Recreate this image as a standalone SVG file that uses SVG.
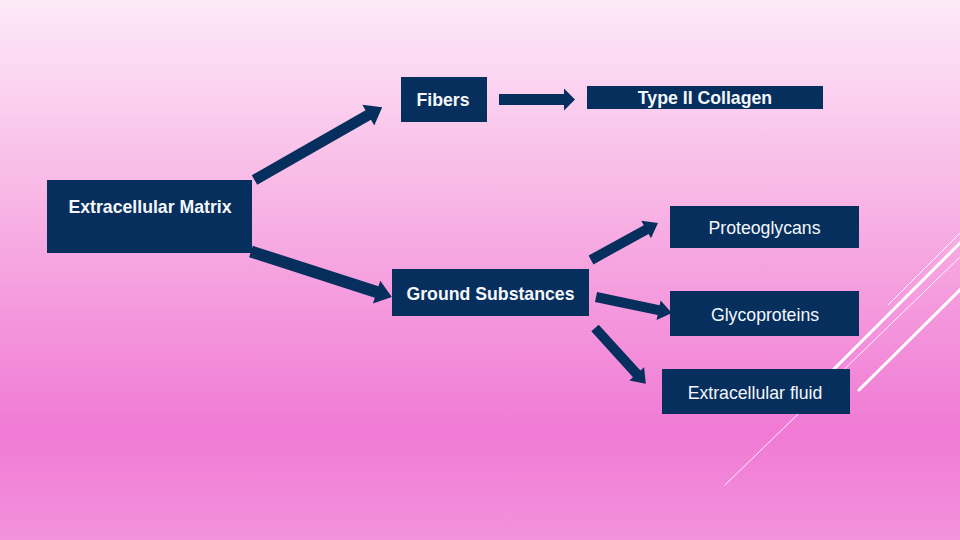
<svg xmlns="http://www.w3.org/2000/svg" width="960" height="540" viewBox="0 0 960 540">
  <defs>
    <linearGradient id="bg" x1="0" y1="0" x2="0" y2="1">
      <stop offset="0" stop-color="#fdeaf8"/>
      <stop offset="0.35" stop-color="#f8b8e6"/>
      <stop offset="0.6" stop-color="#f495dc"/>
      <stop offset="0.8" stop-color="#f07ad5"/>
      <stop offset="1" stop-color="#f392dc"/>
    </linearGradient>
  </defs>
  <style>
    .box { fill: #062f5e; }
    .arrow { fill: #062f5e; }
    .lbl { font-family: "Liberation Sans", Arial, sans-serif; font-size: 17.7px; fill: #f5f7fb; text-anchor: middle; }
    .b { font-weight: bold; }
    .deco { stroke: #ffffff; fill: none; stroke-linecap: round; }
  </style>
  <rect x="0" y="0" width="960" height="540" fill="url(#bg)"/>

  <g id="decoration">
    <line class="deco" x1="888" y1="305" x2="962" y2="231" stroke-width="1" opacity="0.85"/>
    <line class="deco" x1="826" y1="377" x2="962" y2="241" stroke-width="3"/>
    <line class="deco" x1="725" y1="485" x2="962" y2="255" stroke-width="1" opacity="0.85"/>
    <line class="deco" x1="859" y1="390" x2="962" y2="288" stroke-width="3"/>
  </g>

  <g id="connectors">
    <path class="arrow" transform="translate(254.5,180) rotate(-29.7)" d="M0,-5.5 L131,-5.5 L131,-12 L147,0 L131,12 L131,5.5 L0,5.5 Z"/>
    <path class="arrow" transform="translate(499,99.5) rotate(0)" d="M0,-5.5 L65,-5.5 L65,-11 L76,0 L65,11 L65,5.5 L0,5.5 Z"/>
    <path class="arrow" transform="translate(251,251.5) rotate(17.9)" d="M0,-6 L132,-6 L132,-12 L148,0 L132,12 L132,6 L0,6 Z"/>
    <path class="arrow" transform="translate(591,260) rotate(-28.9)" d="M0,-5 L63,-5 L63,-10 L76.5,0 L63,10 L63,5 L0,5 Z"/>
    <path class="arrow" transform="translate(596,297) rotate(11.9)" d="M0,-5 L64,-5 L64,-10 L77.5,0 L64,10 L64,5 L0,5 Z"/>
    <path class="arrow" transform="translate(595,328) rotate(47.7)" d="M0,-5 L62,-5 L62,-10 L75.5,0 L62,10 L62,5 L0,5 Z"/>
  </g>

  <g id="node-ecm">
    <rect class="box" x="47" y="180" width="205" height="73"/>
    <text class="lbl b" x="150" y="213">Extracellular Matrix</text>
  </g>
  <g id="node-fibers">
    <rect class="box" x="401" y="77" width="86" height="45"/>
    <text class="lbl b" x="443" y="106">Fibers</text>
  </g>
  <g id="node-collagen">
    <rect class="box" x="587" y="86" width="236" height="23"/>
    <text class="lbl b" x="705" y="103.5">Type II Collagen</text>
  </g>
  <g id="node-ground">
    <rect class="box" x="392" y="269" width="197" height="47"/>
    <text class="lbl b" x="490.5" y="299.5">Ground Substances</text>
  </g>
  <g id="node-proteoglycans">
    <rect class="box" x="670" y="206" width="189" height="42"/>
    <text class="lbl" x="764.5" y="233.5">Proteoglycans</text>
  </g>
  <g id="node-glycoproteins">
    <rect class="box" x="670" y="291" width="189" height="45"/>
    <text class="lbl" x="765" y="320.5">Glycoproteins</text>
  </g>
  <g id="node-ecf">
    <rect class="box" x="662" y="369" width="188" height="45"/>
    <text class="lbl" x="755" y="399">Extracellular fluid</text>
  </g>
</svg>
